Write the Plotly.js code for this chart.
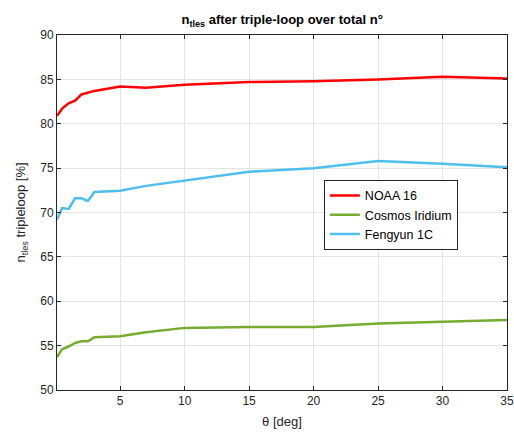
<!DOCTYPE html>
<html>
<head>
<meta charset="utf-8">
<script src="https://cdn.plot.ly/plotly-3.0.1.min.js"></script>
<style>body{margin:0;padding:0;background:#fff}#chart{width:514px;height:434px}</style>
</head>
<body>
<div id="chart"></div>
<script>
var theta = [0.1, 0.5, 1, 1.5, 2, 2.5, 3, 5, 7, 10, 15, 20, 25, 30, 35];
var noaa16 = [80.9, 81.7, 82.3, 82.6, 83.3, 83.5, 83.7, 84.2, 84.05, 84.4, 84.7, 84.8, 85.0, 85.3, 85.1];
var cosmosIridium = [53.7, 54.6, 54.9, 55.3, 55.5, 55.5, 55.95, 56.05, 56.5, 57.0, 57.1, 57.1, 57.5, 57.7, 57.9];
var fengyun1C = [69.2, 70.5, 70.4, 71.6, 71.6, 71.3, 72.3, 72.45, 73.0, 73.6, 74.6, 75.0, 75.8, 75.5, 75.1];
var seriesNames = ["NOAA 16", "Cosmos Iridium", "Fengyun 1C"];
var xTicks = [5, 10, 15, 20, 25, 30, 35];
var yTicks = [50, 55, 60, 65, 70, 75, 80, 85, 90];

var colors = ["#FF0000", "#77AC30", "#4DBEEE"];
var ys = [noaa16, cosmosIridium, fengyun1C];
var traces = ys.map(function(y, i){
  return {x: theta, y: y, type: 'scatter', mode: 'lines', name: seriesNames[i],
          line: {color: colors[i], width: 2.5}};
});
var fontFam = '"Liberation Sans", Arial, Helvetica, sans-serif';
var layout = {
  width: 514, height: 434,
  margin: {l: 57, r: 7, t: 35, b: 44},
  paper_bgcolor: '#fff', plot_bgcolor: '#fff',
  font: {family: fontFam, size: 12, color: '#262626'},
  showlegend: true,
  title: {text: '<b>n<sub>tles</sub> after triple-loop over total n°</b>',
          font: {family: fontFam, size: 13, color: '#000'},
          x: 0.549, xanchor: 'center', yref: 'container', y: 0.955, yanchor: 'middle'},
  xaxis: {range: [0.1, 35], tickvals: xTicks, ticks: 'inside', ticklen: 4, tickcolor: '#262626',
          showline: true, linecolor: '#262626', linewidth: 1, mirror: 'ticks',
          showgrid: true, gridcolor: '#e3e3e3', zeroline: false,
          tickfont: {size: 12, color: '#262626'},
          title: {text: 'θ [deg]', font: {size: 13, color: '#262626'}, standoff: 9}},
  yaxis: {range: [50, 90], tickvals: yTicks, ticks: 'inside', ticklen: 4, tickcolor: '#262626',
          showline: true, linecolor: '#262626', linewidth: 1, mirror: 'ticks',
          showgrid: true, gridcolor: '#e3e3e3', zeroline: false,
          tickfont: {size: 12, color: '#262626'},
          title: {text: 'n<sub>tles</sub> tripleloop [%]', font: {size: 13, color: '#262626'}, standoff: 11}},
  legend: {x: 0.593, y: 0.592, xanchor: 'left', yanchor: 'top',
           bgcolor: '#fff', bordercolor: '#262626', borderwidth: 1,
           font: {size: 12.5, color: '#000'}, tracegroupgap: 0}
};
Plotly.newPlot('chart', traces, layout, {displayModeBar: false, staticPlot: true});
</script>
</body>
</html>
